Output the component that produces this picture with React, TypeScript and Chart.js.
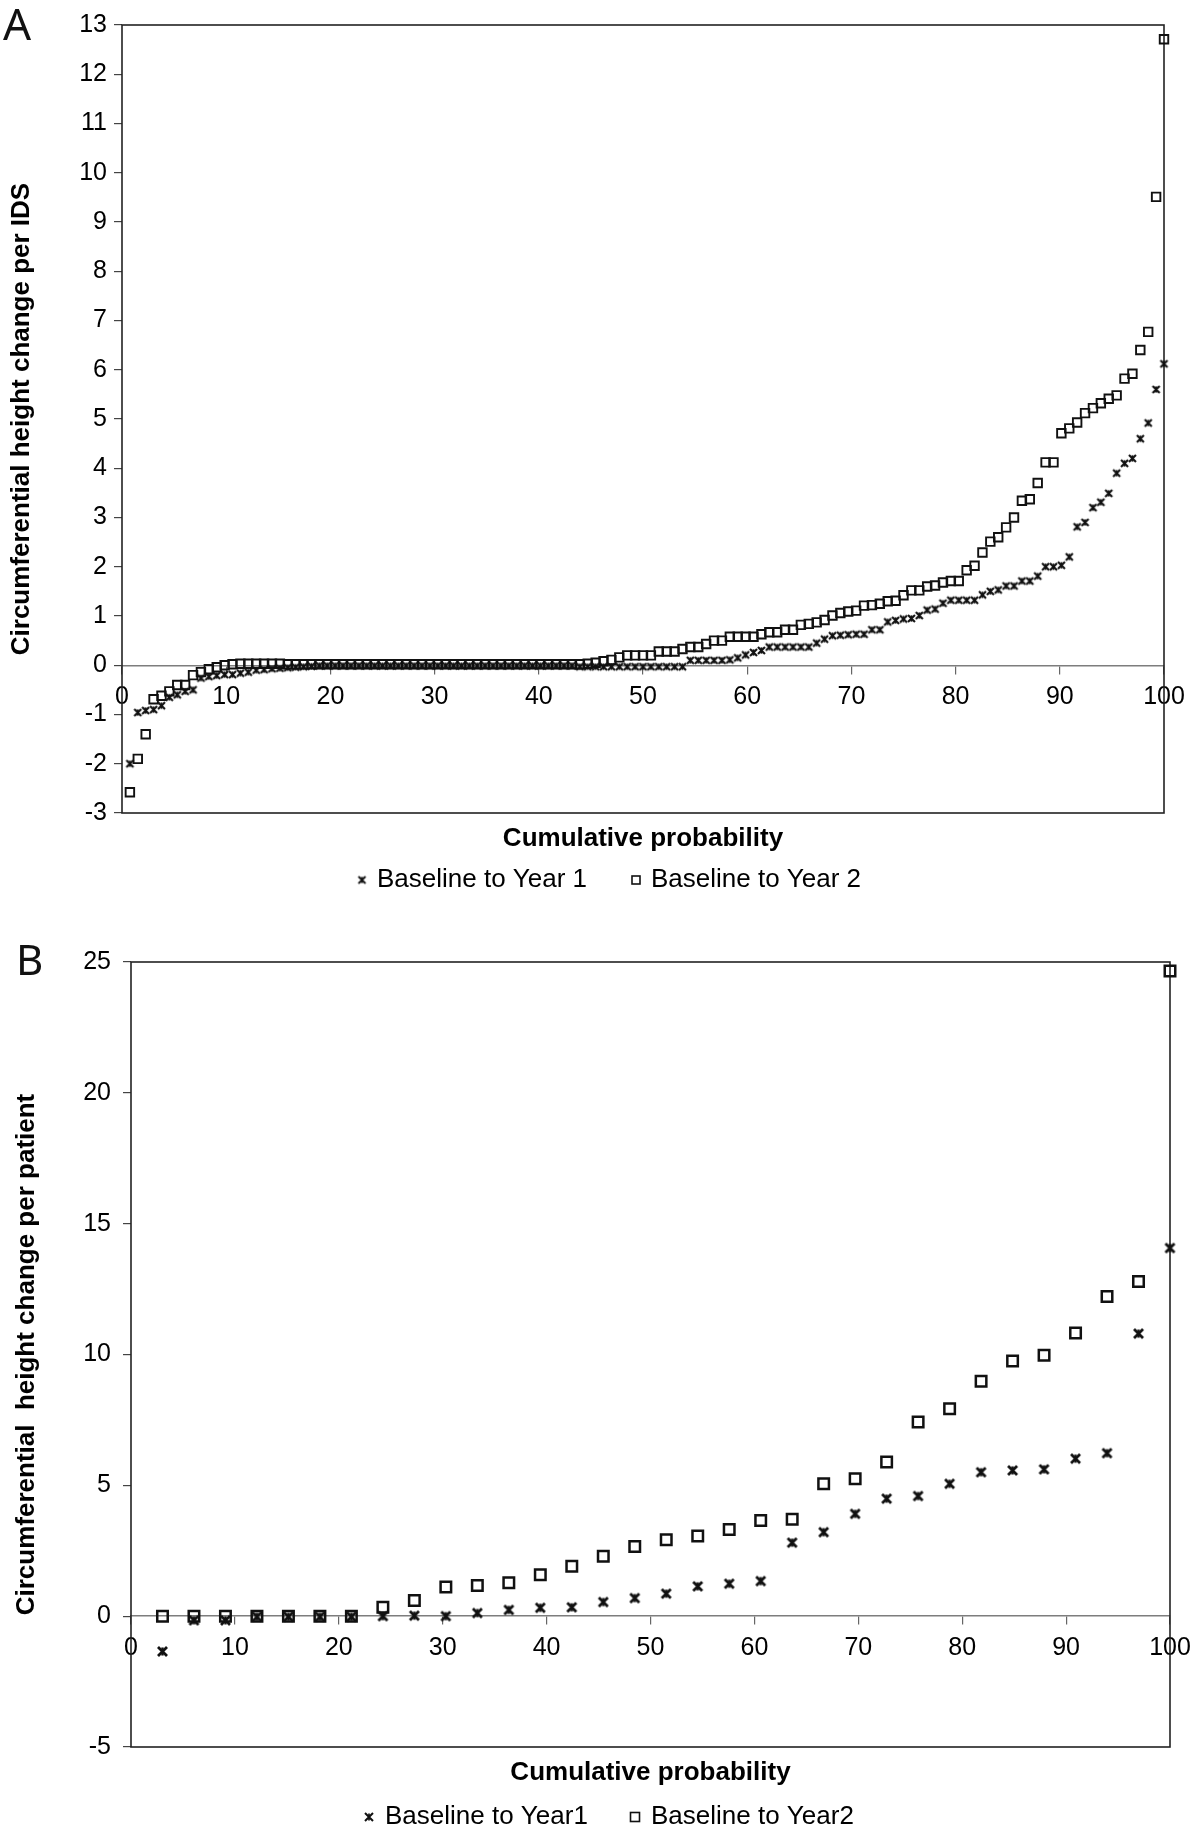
import { useEffect, useRef } from 'react';
import { Chart, registerables } from 'chart.js';

Chart.register(...registerables);

// ---------- DATA ----------
// Panel A: 132 IDS, ranked; cumulative probability = rank / 132 * 100
const N_IDS = 132;
const idsYear1 = [
  -2.0, -0.96, -0.92, -0.9, -0.82, -0.65, -0.6, -0.53, -0.5, -0.26,
  -0.23, -0.21, -0.19, -0.19, -0.16, -0.14, -0.1, -0.09, -0.07, -0.06,
  -0.05, -0.04, -0.03, -0.02,
  -0.01, -0.01, -0.01, -0.01, -0.01, -0.01, -0.01, -0.01, -0.01, -0.01,
  -0.01, -0.01, -0.01, -0.01, -0.01, -0.01, -0.01, -0.01, -0.01, -0.01,
  -0.01, -0.01, -0.01, -0.01, -0.01, -0.01, -0.01, -0.01, -0.01, -0.01,
  -0.01, -0.01, -0.01,
  -0.03, -0.03, -0.03, -0.03, -0.03, -0.03, -0.03, -0.03, -0.03, -0.03,
  -0.03, -0.03, -0.03, -0.03,
  0.1, 0.1, 0.1, 0.1, 0.1, 0.11, 0.15, 0.21, 0.26, 0.3,
  0.37, 0.37, 0.37, 0.37, 0.37, 0.37, 0.45,
  0.53, 0.6, 0.61, 0.62, 0.63, 0.63, 0.72, 0.72, 0.88, 0.91,
  0.94, 0.95, 1.01, 1.12, 1.14, 1.26, 1.32, 1.32, 1.32, 1.32,
  1.43, 1.5, 1.53, 1.61, 1.61, 1.71, 1.71, 1.81, 2.0, 2.0,
  2.03, 2.2, 2.81, 2.9, 3.2, 3.31, 3.49, 3.9, 4.1, 4.2,
  4.6, 4.92, 5.6, 6.12,
];
const idsYear2 = [
  -2.58, -1.9, -1.4, -0.69, -0.62, -0.53, -0.4, -0.4, -0.2, -0.14,
  -0.08, -0.04, 0.0, 0.02,
  0.03, 0.03, 0.03, 0.03, 0.03, 0.03,
  0.02, 0.02, 0.02, 0.02, 0.02, 0.02, 0.02, 0.02, 0.02, 0.02,
  0.02, 0.02, 0.02, 0.02, 0.02, 0.02, 0.02, 0.02, 0.02, 0.02,
  0.02, 0.02, 0.02, 0.02, 0.02, 0.02, 0.02, 0.02, 0.02, 0.02,
  0.02, 0.02, 0.02, 0.02, 0.02, 0.02, 0.02, 0.02,
  0.03, 0.05,
  0.08, 0.11, 0.16, 0.2, 0.2, 0.2, 0.2, 0.28, 0.28, 0.28,
  0.33, 0.37, 0.37, 0.43, 0.5, 0.5, 0.58, 0.58, 0.58, 0.58,
  0.63, 0.67, 0.67, 0.72, 0.72, 0.82, 0.84, 0.87, 0.92, 1.01,
  1.06, 1.09, 1.11, 1.21, 1.22, 1.25, 1.3, 1.31, 1.42, 1.52,
  1.52, 1.6, 1.62, 1.68, 1.71, 1.71, 1.93, 2.02, 2.29, 2.51,
  2.6, 2.8, 3.0, 3.34, 3.37, 3.7, 4.12, 4.12, 4.71, 4.81,
  4.93, 5.12, 5.22, 5.32, 5.41, 5.48, 5.82, 5.92, 6.4, 6.77,
  9.51, 12.71,
];

// Panel B: 33 patients, ranked; cumulative probability = rank / 33 * 100
const N_PATIENTS = 33;
const patientYear1 = [
  -1.35, -0.16, -0.16, -0.02, -0.02, -0.02, -0.02, 0.0, 0.02, 0.0,
  0.12, 0.24, 0.32, 0.34, 0.54, 0.69, 0.86, 1.14, 1.24, 1.34,
  2.81, 3.21, 3.91, 4.49, 4.59, 5.06, 5.5, 5.57, 5.61, 6.02,
  6.23, 10.8, 14.07,
];
const patientYear2 = [
  0.0, 0.0, 0.0, 0.0, 0.0, 0.0, 0.0, 0.34, 0.6, 1.11,
  1.17, 1.28, 1.58, 1.91, 2.29, 2.66, 2.92, 3.06, 3.31, 3.66,
  3.7, 5.06, 5.25, 5.89, 7.42, 7.93, 8.98, 9.75, 9.97, 10.82,
  12.22, 12.79, 24.66,
];

const xTickRange = { min: 0, max: 100, step: 10 };
const yRangeA = { min: -3, max: 13, step: 1 };
const yRangeB = { min: -5, max: 25, step: 5 };

const legendA = ['Baseline to Year 1', 'Baseline to Year 2'];
const legendB = ['Baseline to Year1', 'Baseline to Year2'];
const xTitle = 'Cumulative probability';
const yTitleA = 'Circumferential height change per IDS';
const yTitleB = 'Circumferential  height change per patient';

// ---------- STYLE ----------
const FAMILY = "'Liberation Sans', Arial, Helvetica, sans-serif";
const TICK_SIZE = 25;
const TITLE_SIZE = 26;
const LEGEND_SIZE = 26;

function makeStar(size: number, lw: number): HTMLCanvasElement {
  const pad = Math.ceil(lw);
  const dim = size + pad * 2;
  const c = document.createElement('canvas');
  c.width = dim;
  c.height = dim;
  const g = c.getContext('2d')!;
  g.strokeStyle = '#111';
  g.lineWidth = lw;
  g.beginPath();
  g.moveTo(pad, pad);
  g.lineTo(pad + size, pad + size);
  g.moveTo(pad + size, pad);
  g.lineTo(pad, pad + size);
  g.stroke();
  g.lineWidth = lw * 0.85;
  g.beginPath();
  g.moveTo(dim / 2, pad + size * 0.05);
  g.lineTo(dim / 2, pad + size * 0.95);
  g.stroke();
  return c;
}

interface PanelSpec {
  n: number;
  year1: number[];
  year2: number[];
  labels: string[];
  yTitle: string;
  yRange: { min: number; max: number; step: number };
  pad: { top: number; right: number; bottom: number; left: number };
  yWidth: number;
  yTitlePad: number;
  yTickPad: number;
  xHeight: number;
  xTickPad: number;
  starSize: number;
  starLw: number;
  sqSize: number;
  sqLw: number;
  legendStarSize: number;
  legendStarLw: number;
  legendSq: number;
  letter: string;
  letterX: number;
  letterBase: number;
  letterSize: number;
  legendY: number;
  legendPos: { mx: number; tx: number }[];
}

function makePanel(canvas: HTMLCanvasElement, s: PanelSpec): Chart {
  const star = makeStar(s.starSize, s.starLw);
  const legendStar = makeStar(s.legendStarSize, s.legendStarLw);
  const sqRadius = s.sqSize / Math.SQRT2;

  const framePlugin = {
    id: 'frame' + s.letter,
    beforeDatasetsDraw(chart: any) {
      const { ctx, chartArea } = chart;
      ctx.save();
      ctx.strokeStyle = '#222';
      ctx.lineWidth = 1.6;
      ctx.strokeRect(chartArea.left, chartArea.top, chartArea.right - chartArea.left, chartArea.bottom - chartArea.top);
      ctx.restore();
    },
    afterDraw(chart: any) {
      const { ctx } = chart;
      ctx.save();
      // panel letter
      ctx.fillStyle = '#111';
      ctx.font = `${s.letterSize}px 'Noto Sans', 'Open Sans', sans-serif`;
      ctx.textAlign = 'left';
      ctx.textBaseline = 'alphabetic';
      ctx.fillText(s.letter, s.letterX, s.letterBase);
      // legend
      ctx.font = `${LEGEND_SIZE}px ${FAMILY}`;
      ctx.textBaseline = 'middle';
      s.labels.forEach((label, i) => {
        const p = s.legendPos[i];
        if (i === 0) {
          ctx.drawImage(legendStar, p.mx - legendStar.width / 2, s.legendY - legendStar.height / 2);
        } else {
          ctx.strokeStyle = '#111';
          ctx.lineWidth = 1.6;
          ctx.strokeRect(p.mx - s.legendSq / 2, s.legendY - s.legendSq / 2, s.legendSq, s.legendSq);
        }
        ctx.fillStyle = '#000';
        ctx.fillText(label, p.tx, s.legendY);
      });
      ctx.restore();
    },
  };

  return new Chart(canvas, {
    type: 'scatter',
    data: {
      datasets: [
        {
          label: s.labels[0],
          data: s.year1.map((v, i) => ({ x: ((i + 1) * 100) / s.n, y: v })),
          pointStyle: star as any,
          pointRadius: s.starSize / 2,
          borderColor: '#111',
          backgroundColor: '#111',
          showLine: false,
          clip: false as any,
        },
        {
          label: s.labels[1],
          data: s.year2.map((v, i) => ({ x: ((i + 1) * 100) / s.n, y: v })),
          pointStyle: 'rect',
          pointRadius: sqRadius,
          borderWidth: s.sqLw,
          borderColor: '#111',
          backgroundColor: 'rgba(255,255,255,0)',
          showLine: false,
          clip: false as any,
        },
      ],
    },
    options: {
      responsive: false,
      animation: false,
      devicePixelRatio: 1,
      layout: { padding: s.pad },
      plugins: {
        legend: { display: false },
        tooltip: { enabled: false },
        title: { display: false },
      },
      scales: {
        x: {
          type: 'linear',
          position: 'bottom',
          min: xTickRange.min,
          max: xTickRange.max,
          ticks: { display: false },
          grid: { display: false },
          border: { display: false },
          title: {
            display: true,
            text: xTitle,
            color: '#000',
            font: { family: FAMILY, size: TITLE_SIZE, weight: 'bold' },
            padding: { top: 0, bottom: 0 },
          },
          afterFit: (sc: any) => {
            sc.height = s.xHeight;
            sc.paddingLeft = 0;
            sc.paddingRight = 0;
          },
        },
        x2: {
          type: 'linear',
          axis: 'x',
          position: { y: 0 } as any,
          min: xTickRange.min,
          max: xTickRange.max,
          ticks: {
            stepSize: xTickRange.step,
            autoSkip: false,
            maxRotation: 0,
            color: '#000',
            padding: s.xTickPad,
            font: { family: FAMILY, size: TICK_SIZE },
          },
          grid: {
            display: true,
            drawOnChartArea: false,
            drawTicks: true,
            tickLength: 8,
            color: '#666',
            lineWidth: 1.2,
          },
          border: { display: true, color: '#7d7d7d', width: 1.4 },
          afterFit: (sc: any) => {
            sc.paddingLeft = 0;
            sc.paddingRight = 0;
          },
        },
        y: {
          type: 'linear',
          position: 'left',
          min: s.yRange.min,
          max: s.yRange.max,
          ticks: {
            stepSize: s.yRange.step,
            autoSkip: false,
            color: '#000',
            padding: s.yTickPad,
            font: { family: FAMILY, size: TICK_SIZE },
          },
          grid: {
            display: true,
            drawOnChartArea: false,
            drawTicks: true,
            tickLength: 8,
            color: '#444',
            lineWidth: 1.2,
          },
          border: { display: false },
          title: {
            display: true,
            text: s.yTitle,
            color: '#000',
            font: { family: FAMILY, size: TITLE_SIZE, weight: 'bold' },
            padding: { top: s.yTitlePad, bottom: 0 },
          },
          afterFit: (sc: any) => {
            sc.width = s.yWidth;
            sc.paddingTop = 0;
            sc.paddingBottom = 0;
          },
        },
      },
    } as any,
    plugins: [framePlugin],
  });
}

const specA: PanelSpec = {
  n: N_IDS,
  year1: idsYear1,
  year2: idsYear2,
  labels: legendA,
  yTitle: yTitleA,
  yRange: yRangeA,
  pad: { top: 25, right: 33, bottom: 61, left: 0 },
  yWidth: 122,
  yTitlePad: 6,
  yTickPad: 7,
  xHeight: 41,
  xTickPad: 9,
  starSize: 7,
  starLw: 2.1,
  sqSize: 8.5,
  sqLw: 1.9,
  legendStarSize: 7,
  legendStarLw: 1.8,
  legendSq: 8,
  letter: 'A',
  letterX: 3,
  letterBase: 40,
  letterSize: 44,
  legendY: 880,
  legendPos: [
    { mx: 362, tx: 377 },
    { mx: 636, tx: 651 },
  ],
};

const specB: PanelSpec = {
  n: N_PATIENTS,
  year1: patientYear1,
  year2: patientYear2,
  labels: legendB,
  yTitle: yTitleB,
  yRange: yRangeB,
  pad: { top: 47, right: 27, bottom: 44, left: 0 },
  yWidth: 131,
  yTitlePad: 11,
  yTickPad: 12,
  xHeight: 41,
  xTickPad: 9,
  starSize: 9,
  starLw: 2.8,
  sqSize: 10.5,
  sqLw: 2.5,
  legendStarSize: 8,
  legendStarLw: 2,
  legendSq: 9,
  letter: 'B',
  letterX: 16,
  letterBase: 60,
  letterSize: 42,
  legendY: 902,
  legendPos: [
    { mx: 369, tx: 385 },
    { mx: 635, tx: 651 },
  ],
};

export default function App() {
  const refA = useRef<HTMLCanvasElement>(null);
  const refB = useRef<HTMLCanvasElement>(null);

  useEffect(() => {
    const a = makePanel(refA.current!, specA);
    const b = makePanel(refB.current!, specB);
    return () => {
      a.destroy();
      b.destroy();
    };
  }, []);

  return (
    <div style={{ position: 'absolute', left: 0, top: 0, width: 1197, height: 1832, background: '#fff' }}>
      <canvas ref={refA} width={1197} height={915} style={{ position: 'absolute', left: 0, top: 0 }} />
      <canvas ref={refB} width={1197} height={917} style={{ position: 'absolute', left: 0, top: 915 }} />
    </div>
  );
}
